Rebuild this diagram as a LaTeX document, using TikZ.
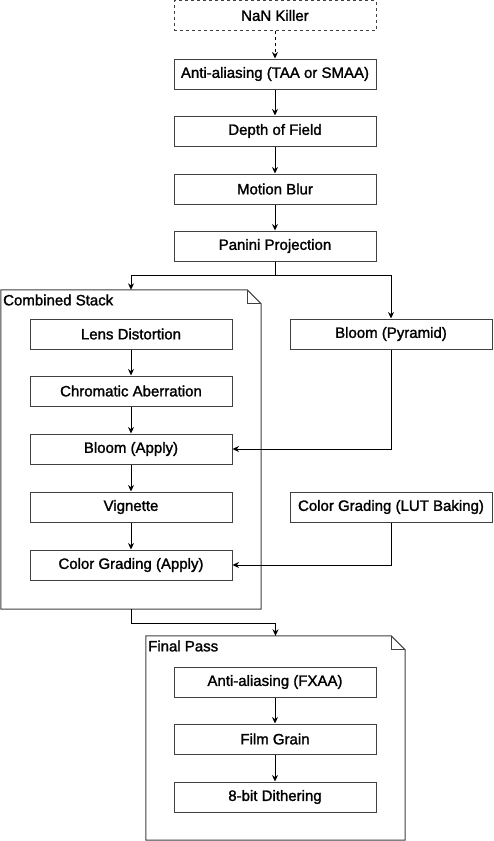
\documentclass[tikz,border=0pt]{standalone}
\usepackage{fontspec}
\setmainfont{Liberation Sans}[FakeBold=1.5]
\usetikzlibrary{arrows.meta,positioning}
\begin{document}
\begin{tikzpicture}[x=1pt,y=-1pt,
  box/.style={draw=black!75,line width=1pt,minimum width=202pt,minimum height=30pt,inner sep=0pt,font=\fontsize{15}{17}\selectfont,fill=white},
  cont/.style={inner sep=0pt},
  conn/.style={draw=black,line width=1pt,-{Stealth[length=6.5pt,width=6pt]}},
  ttl/.style={anchor=west,inner sep=0pt,font=\fontsize{15}{17}\selectfont}]
\useasboundingbox (0,0) rectangle (493,841);
% containers
\node[cont,minimum width=260pt,minimum height=319pt] (cs) at (131,449.5) {};
\node[cont,minimum width=259pt,minimum height=204pt] (fp) at (275.5,738) {};
\draw[draw=black!75,line width=1pt,fill=white] (cs.north west) -- ([xshift=-14pt]cs.north east) -- ([yshift=-14pt]cs.north east) -- (cs.south east) -- (cs.south west) -- cycle;
\draw[draw=black!75,line width=1pt] ([xshift=-14pt]cs.north east) -- ([xshift=-14pt,yshift=-14pt]cs.north east) -- ([yshift=-14pt]cs.north east);
\draw[draw=black!75,line width=1pt,fill=white] (fp.north west) -- ([xshift=-14pt]fp.north east) -- ([yshift=-14pt]fp.north east) -- (fp.south east) -- (fp.south west) -- cycle;
\draw[draw=black!75,line width=1pt] ([xshift=-14pt]fp.north east) -- ([xshift=-14pt,yshift=-14pt]fp.north east) -- ([yshift=-14pt]fp.north east);
\node[ttl] (cst) at (3,300) {Combined Stack};
\node[ttl] (fpt) at (148,646) {Final Pass};
% main column
\node[box,dashed] (nan) at (275,15.5) {NaN Killer};
\node[box] (aa) at (275,74) {Anti-aliasing (TAA or SMAA)};
\node[box] (dof) at (275,131) {Depth of Field};
\node[box] (mb) at (275,189) {Motion Blur};
\node[box] (pp) at (275,246) {Panini Projection};
% combined stack
\node[box] (ld) at (131,334) {Lens Distortion};
\node[box] (ca) at (131,391) {Chromatic Aberration};
\node[box] (ba) at (131,449) {Bloom (Apply)};
\node[box] (vg) at (131,507) {Vignette};
\node[box] (cga) at (131,565) {Color Grading (Apply)};
% right column
\node[box] (bp) at (391,334) {Bloom (Pyramid)};
\node[box] (lut) at (391,507) {Color Grading (LUT Baking)};
% final pass
\node[box] (fx) at (275,682) {Anti-aliasing (FXAA)};
\node[box] (fg) at (275,739) {Film Grain};
\node[box] (dit) at (275,797) {8-bit Dithering};
% connectors
\draw[conn,dashed] (nan) -- (aa);
\draw[conn] (aa) -- (dof);
\draw[conn] (dof) -- (mb);
\draw[conn] (mb) -- (pp);
\draw[conn] (pp.south) -- ++(0,13.5) -| (cs.north);
\draw[conn] (pp.south) -- ++(0,13.5) -| (bp.north);
\draw[conn] (ld) -- (ca);
\draw[conn] (ca) -- (ba);
\draw[conn] (ba) -- (vg);
\draw[conn] (vg) -- (cga);
\draw[conn] (bp.south) |- (ba.east);
\draw[conn] (lut.south) |- (cga.east);
\draw[conn] (cs.south) -- ++(0,14) -| (fp.north);
\draw[conn] (fx) -- (fg);
\draw[conn] (fg) -- (dit);
\end{tikzpicture}
\end{document}
